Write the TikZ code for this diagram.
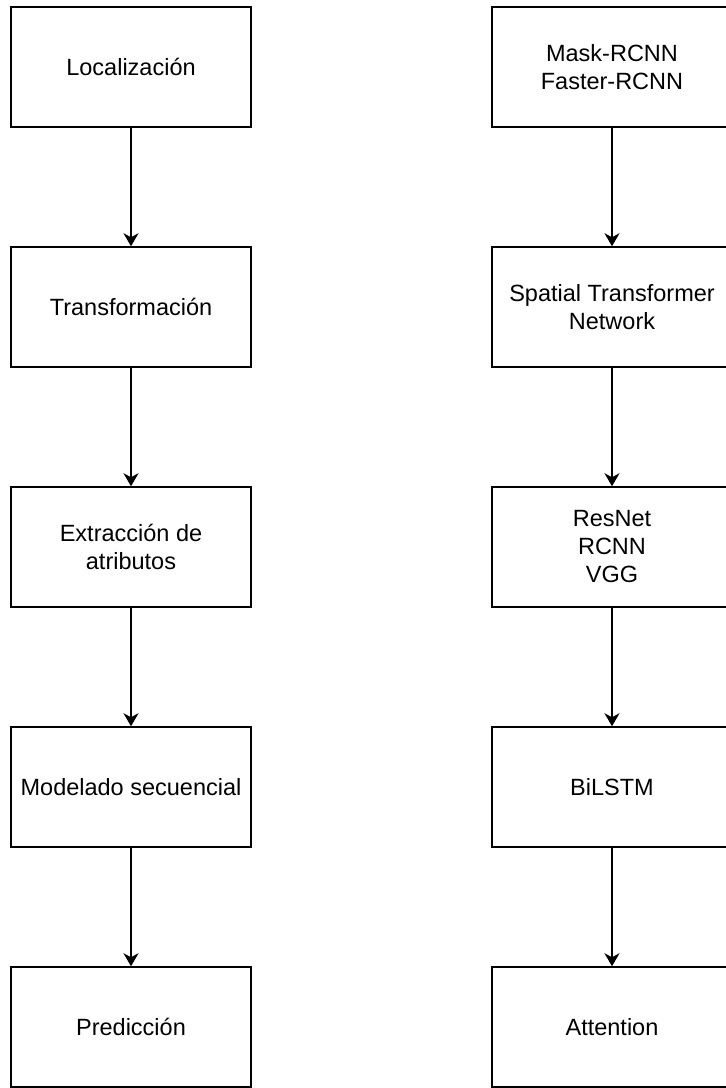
\documentclass[tikz,border=0pt]{standalone}
\usepackage{fontspec}
\setmainfont{Liberation Sans}
\usetikzlibrary{arrows.meta}
\begin{document}
\begin{tikzpicture}[x=1pt,y=1pt,
  stage/.style={draw=black, line width=1.5pt, fill=white, minimum width=240pt, minimum height=120pt,
    inner sep=0pt, align=center, font=\fontsize{23.5}{28}\selectfont},
  flow/.style={draw=black, line width=1.5pt, -{Stealth[length=13pt,width=15pt,inset=4pt]}}]
\useasboundingbox (0,0) rectangle (726,-1088);
\fill[white] (0,0) rectangle (726,-1088);
% pipeline stages
\node[stage] (loc)  at (131,-67)   {Localización};
\node[stage] (tra)  at (131,-307)  {Transformación};
\node[stage] (ext)  at (131,-547)  {Extracción de\\atributos};
\node[stage] (mod)  at (131,-787)  {Modelado secuencial};
\node[stage] (pre)  at (131,-1027) {Predicción};
% methods used at each stage
\node[stage] (rcnn) at (612,-67)   {Mask-RCNN\\Faster-RCNN};
\node[stage] (stn)  at (612,-307)  {Spatial Transformer\\Network};
\node[stage] (feat) at (612,-547)  {ResNet\\RCNN\\VGG};
\node[stage] (lstm) at (612,-787)  {BiLSTM};
\node[stage] (att)  at (612,-1027) {Attention};
% connectors
\draw[flow] (loc) -- (tra);
\draw[flow] (tra) -- (ext);
\draw[flow] (ext) -- (mod);
\draw[flow] (mod) -- (pre);
\draw[flow] (rcnn) -- (stn);
\draw[flow] (stn) -- (feat);
\draw[flow] (feat) -- (lstm);
\draw[flow] (lstm) -- (att);
\end{tikzpicture}
\end{document}
